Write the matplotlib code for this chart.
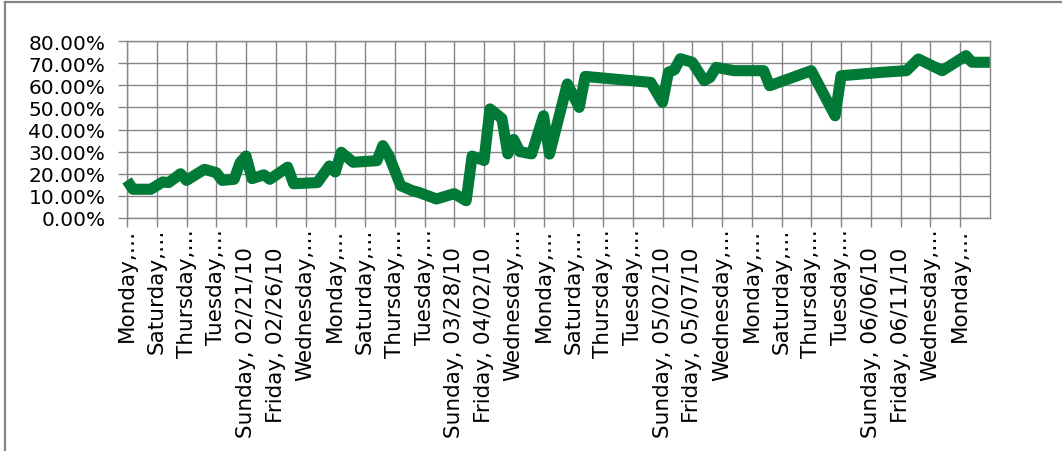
#!/usr/bin/env python3
"""Daily percentage line chart, Feb-Jun 2010 (Excel-style)."""
import pandas as pd
import matplotlib
matplotlib.use("Agg")
import matplotlib.pyplot as plt
from matplotlib.lines import Line2D
from matplotlib.ticker import PercentFormatter


DATES = [
    "2010-02-01", "2010-02-02", "2010-02-05", "2010-02-07", "2010-02-08",
    "2010-02-10", "2010-02-11", "2010-02-14", "2010-02-16", "2010-02-17",
    "2010-02-19", "2010-02-20", "2010-02-21", "2010-02-22", "2010-02-24",
    "2010-02-25", "2010-02-28", "2010-03-01", "2010-03-05", "2010-03-07",
    "2010-03-08", "2010-03-09", "2010-03-11", "2010-03-15", "2010-03-16",
    "2010-03-17", "2010-03-19", "2010-03-21", "2010-03-22", "2010-03-25",
    "2010-03-28", "2010-03-30", "2010-03-31", "2010-04-02", "2010-04-03",
    "2010-04-05", "2010-04-06", "2010-04-07", "2010-04-08", "2010-04-10",
    "2010-04-12", "2010-04-13", "2010-04-16", "2010-04-18", "2010-04-19",
    "2010-04-30", "2010-05-02", "2010-05-03", "2010-05-04", "2010-05-05",
    "2010-05-07", "2010-05-09", "2010-05-10", "2010-05-11", "2010-05-14",
    "2010-05-19", "2010-05-20", "2010-05-27", "2010-05-31", "2010-06-01",
    "2010-06-08", "2010-06-12", "2010-06-14", "2010-06-18", "2010-06-22",
    "2010-06-23", "2010-06-26",
]
VALUES = [
    17.0, 13.0, 13.0, 16.3, 16.0,
    20.0, 17.0, 22.0, 20.5, 17.0,
    17.5, 25.0, 28.0, 17.8, 19.5,
    17.5, 23.0, 15.5, 16.0, 23.5,
    20.8, 29.7, 25.2, 25.9, 32.7,
    28.2, 14.6, 12.3, 11.6, 8.6,
    11.0, 7.8, 28.0, 26.0, 49.3,
    45.0, 29.0, 35.5, 30.0, 29.0,
    46.2, 28.9, 60.6, 50.0, 64.0,
    61.3, 52.3, 65.9, 67.0, 72.0,
    70.4, 62.1, 63.6, 68.1, 66.6,
    66.6, 59.8, 66.6, 46.2, 64.3,
    65.9, 66.6, 71.9, 66.6, 73.4,
    70.4, 70.4,
]
TICK_LABELS = [
    "Monday,…", "Saturday,…", "Thursday,…", "Tuesday,…",
    "Sunday, 02/21/10", "Friday, 02/26/10", "Wednesday,…", "Monday,…",
    "Saturday,…", "Thursday,…", "Tuesday,…", "Sunday, 03/28/10",
    "Friday, 04/02/10", "Wednesday,…", "Monday,…", "Saturday,…",
    "Thursday,…", "Tuesday,…", "Sunday, 05/02/10", "Friday, 05/07/10",
    "Wednesday,…", "Monday,…", "Saturday,…", "Thursday,…",
    "Tuesday,…", "Sunday, 06/06/10", "Friday, 06/11/10", "Wednesday,…",
    "Monday,…",
]

GRAY = "#868686"
GREEN = "#007A36"

plt.rcParams["font.family"] = ["DejaVu Sans"]

fig = plt.figure(figsize=(10.62, 4.52), dpi=100)
ax = fig.add_axes([0.1196, 0.5155, 0.8124, 0.3915])

x = pd.to_datetime(DATES)
ax.plot(x, VALUES, color=GREEN, lw=8, solid_joinstyle="round",
        solid_capstyle="butt", clip_on=False, zorder=3)

ticks = pd.date_range("2010-02-01", periods=len(TICK_LABELS), freq="5D")
ax.set_xlim(pd.Timestamp("2010-02-01"), pd.Timestamp("2010-06-26"))
ax.set_xticks(ticks)
ax.set_xticklabels(TICK_LABELS, rotation=90, va="top", ha="center",
                   fontsize=15.5, color="black")

ax.set_ylim(0, 80)
ax.set_yticks(range(0, 81, 10))
ax.yaxis.set_major_formatter(PercentFormatter(xmax=100, decimals=2))
ax.tick_params(axis="y", labelsize=14.5, pad=9, length=6.5, width=1,
               color=GRAY)
ax.tick_params(axis="x", pad=0.5, length=6.5, width=1, color=GRAY)

# full-length labels sit a little lower than the truncated ones
for tick, lab in zip(ax.xaxis.get_major_ticks(), TICK_LABELS):
    if not lab.endswith("…"):
        tick.set_pad(14)

ax.grid(True, color=GRAY, lw=1)
ax.set_axisbelow(True)
for sp in ax.spines.values():
    sp.set_color(GRAY)
    sp.set_linewidth(1)

# chart-area border (left and top edges only are visible)
fig.add_artist(Line2D([0.005, 0.005], [0, 0.994], color=GRAY, lw=1.6,
                      transform=fig.transFigure))
fig.add_artist(Line2D([0.005, 1.0], [0.994, 0.994], color=GRAY, lw=1.6,
                      transform=fig.transFigure))

fig.savefig("out.png", dpi=100, facecolor="white")
